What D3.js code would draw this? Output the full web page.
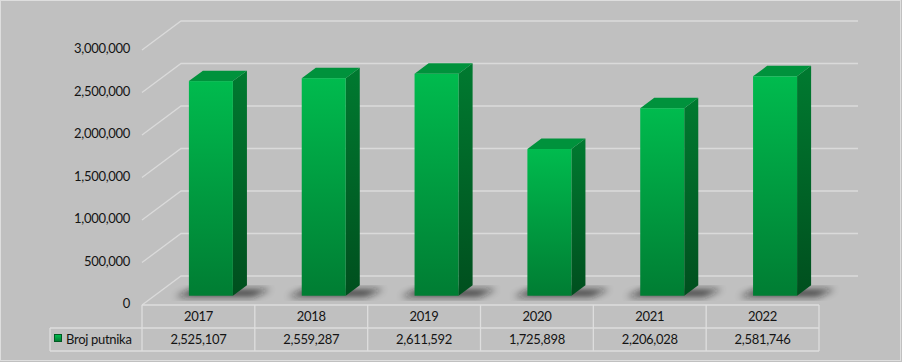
<!DOCTYPE html>
<html>
<head>
<meta charset="utf-8">
<script src="https://cdn.jsdelivr.net/npm/d3@7"></script>
<style>
  body { margin: 0; background: #c0c0c0; }
  text { font-family: Lato, "Open Sans", sans-serif; font-size: 13px; fill: #141414; letter-spacing: -0.3px; }
</style>
</head>
<body>
<div id="chart"></div>
<script>
// data
const years = ["2017", "2018", "2019", "2020", "2021", "2022"];
const passengers = [2525107, 2559287, 2611592, 1725898, 2206028, 2581746];
const seriesName = "Broj putnika";
const yTicks = [0, 500000, 1000000, 1500000, 2000000, 2500000, 3000000];

const width = 902, height = 362;
// front plane corner, and the depth offset of the back wall
const x0 = 142, x1 = 819, floorY = 305;
const depth = { dx: 39, dy: -29 };
const barFront = 0.32, barBack = 0.68, barW = 44;

const svg = d3.select("#chart")
    .append("svg")
    .attr("width", width)
    .attr("height", height);

const defs = svg.append("defs");

// gradients for the 3d bar faces
const gFront = defs.append("linearGradient").attr("id", "gFront")
    .attr("x1", 0).attr("y1", 0).attr("x2", 0).attr("y2", 1);
gFront.append("stop").attr("offset", "0%").attr("stop-color", "#00bb4e");
gFront.append("stop").attr("offset", "100%").attr("stop-color", "#007d33");

const gSide = defs.append("linearGradient").attr("id", "gSide")
    .attr("x1", 0).attr("y1", 0).attr("x2", 0).attr("y2", 1);
gSide.append("stop").attr("offset", "0%").attr("stop-color", "#007a30");
gSide.append("stop").attr("offset", "100%").attr("stop-color", "#004f1e");

const gKey = defs.append("linearGradient").attr("id", "gKey")
    .attr("x1", 0).attr("y1", 0).attr("x2", 0).attr("y2", 1);
gKey.append("stop").attr("offset", "0%").attr("stop-color", "#00c050");
gKey.append("stop").attr("offset", "100%").attr("stop-color", "#007a30");

defs.append("filter").attr("id", "blur")
    .attr("x", "-50%").attr("y", "-50%").attr("width", "200%").attr("height", "200%")
    .append("feGaussianBlur").attr("stdDeviation", 3.5);

// outer frame
svg.append("rect")
    .attr("x", 0.5).attr("y", 0.5)
    .attr("width", width - 2).attr("height", height - 2)
    .attr("fill", "#c0c0c0")
    .attr("stroke", "#dedede");

// scales
const x = d3.scaleBand()
    .domain(years)
    .range([x0, x1]);

const h = d3.scaleLinear() // value -> height in px
    .domain([0, 3000000])
    .range([0, 255]);

const fmt = d3.format(",");

// gridlines: diagonal on the left side wall, then flat along the back wall
const grid = svg.append("g").attr("class", "grid");
yTicks.forEach(t => {
    const yf = floorY - h(t);
    grid.append("path")
        .attr("d", `M${x0},${yf}L${x0 + depth.dx},${yf + depth.dy}L${x1 + depth.dx},${yf + depth.dy}`)
        .attr("fill", "none")
        .attr("stroke", "#dadada")
        .attr("stroke-width", 1.3);
});

// y axis labels
svg.append("g")
    .selectAll("text")
    .data(yTicks)
    .join("text")
    .attr("x", 130)
    .attr("y", d => floorY - h(d))
    .attr("text-anchor", "end")
    .attr("dominant-baseline", "middle")
    .text(d => fmt(d));

// a point in the chart: x on the front, value, depth fraction
const pt = (px, v, f) => [px + f * depth.dx, floorY - h(v) + f * depth.dy];

const shadows = svg.append("g").attr("class", "shadows");
const bars = svg.append("g").attr("class", "bars");
years.forEach((yr, i) => {
    const v = passengers[i];
    const left = x(yr) + x.bandwidth() / 2 - barW / 2;
    const right = left + barW;

    const fl = pt(left, v, barFront), fr = pt(right, v, barFront);
    const bl = pt(left, v, barBack), br = pt(right, v, barBack);
    const fr0 = pt(right, 0, barFront), br0 = pt(right, 0, barBack);
    const fl0 = pt(left, 0, barFront);

    // soft shadow on the floor, behind and around the base
    shadows.append("path")
        .attr("d", `M${fl0[0] - 14},${fl0[1] + 1}L${fl0[0] + 4},${br0[1] + 4}L${br0[0] + 24},${br0[1] + 4}L${fr0[0] + 20},${fr0[1] + 1}Z`)
        .attr("fill", "#151515")
        .attr("opacity", 0.75)
        .attr("filter", "url(#blur)");

    // side face
    bars.append("path")
        .attr("d", `M${fr[0]},${fr[1]}L${br[0]},${br[1]}L${br0[0]},${br0[1]}L${fr0[0]},${fr0[1]}Z`)
        .attr("fill", "url(#gSide)");
    // top face
    bars.append("path")
        .attr("d", `M${fl[0]},${fl[1]}L${bl[0]},${bl[1]}L${br[0]},${br[1]}L${fr[0]},${fr[1]}Z`)
        .attr("fill", "#00923c");
    // front face
    bars.append("rect")
        .attr("x", fl[0])
        .attr("y", fl[1])
        .attr("width", barW)
        .attr("height", fl0[1] - fl[1])
        .attr("fill", "url(#gFront)");
});

// data table under the chart
const rowTop = floorY, rowMid = 328, rowBot = 351, legendLeft = 50;
const table = svg.append("g").attr("class", "table");
const line = (xa, ya, xb, yb) => table.append("line")
    .attr("x1", xa).attr("y1", ya).attr("x2", xb).attr("y2", yb)
    .attr("stroke", "#dedede").attr("stroke-width", 1.3);

// cover shadow spill below the floor edge
table.append("rect")
    .attr("x", x0).attr("y", rowTop)
    .attr("width", x1 - x0 + 30).attr("height", 6)
    .attr("fill", "#c0c0c0");

line(x0, rowTop, x1, rowTop);
line(legendLeft, rowMid, x1, rowMid);
line(legendLeft, rowBot, x1, rowBot);
line(legendLeft, rowMid, legendLeft, rowBot);
years.forEach(yr => line(x(yr), rowTop, x(yr), rowBot));
line(x1, rowTop, x1, rowBot);

table.selectAll(".yr")
    .data(years)
    .join("text")
    .attr("class", "yr")
    .attr("x", d => x(d) + x.bandwidth() / 2)
    .attr("y", (rowTop + rowMid) / 2 + 1)
    .attr("text-anchor", "middle")
    .attr("dominant-baseline", "middle")
    .text(d => d);

table.selectAll(".val")
    .data(passengers)
    .join("text")
    .attr("class", "val")
    .attr("x", (d, i) => x(years[i]) + x.bandwidth() / 2)
    .attr("y", (rowMid + rowBot) / 2 + 1)
    .attr("text-anchor", "middle")
    .attr("dominant-baseline", "middle")
    .text(d => fmt(d));

// legend key
table.append("rect")
    .attr("x", 54.5).attr("y", 334.5)
    .attr("width", 7).attr("height", 7)
    .attr("fill", "url(#gKey)")
    .attr("stroke", "#005a22");
table.append("text")
    .attr("x", 66)
    .attr("y", (rowMid + rowBot) / 2 + 1)
    .attr("dominant-baseline", "middle")
    .text(seriesName);
</script>
</body>
</html>
